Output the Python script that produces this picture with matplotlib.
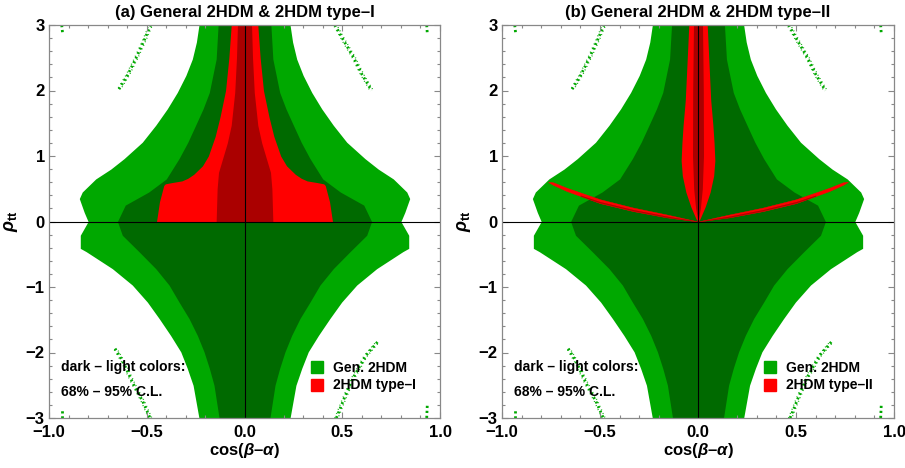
import matplotlib
matplotlib.use("Agg")
import matplotlib.pyplot as plt
from matplotlib.lines import Line2D
from matplotlib.ticker import MultipleLocator, FuncFormatter
import numpy as np

plt.rcParams['font.family'] = ['Liberation Sans', 'DejaVu Sans']
plt.rcParams['font.weight'] = 'bold'
plt.rcParams['mathtext.fontset'] = 'custom'
plt.rcParams['mathtext.rm'] = 'Liberation Sans:bold'
plt.rcParams['mathtext.it'] = 'Liberation Sans:italic:bold'
plt.rcParams['mathtext.bf'] = 'Liberation Sans:bold'

# ---- General 2HDM (both panels): half-widths in cos(beta-alpha) vs rho_tt
g95_rho = [-3.0, -2.5, -2.24, -1.99, -1.74, -1.48, -1.23, -0.97, -0.72, -0.46, -0.41,
           -0.21, 0.0, 0.14, 0.35, 0.45, 0.65, 0.80, 0.96, 1.21, 1.47, 1.72, 1.97, 2.23,
           2.48, 2.74, 3.0]
g95_hw = [0.233, 0.263, 0.293, 0.326, 0.378, 0.437, 0.497, 0.574, 0.676, 0.81, 0.84,
          0.84, 0.80, 0.82, 0.845, 0.83, 0.761, 0.684, 0.616, 0.523, 0.454, 0.395, 0.344,
          0.30, 0.267, 0.246, 0.233]
g68_rho = [-3.0, -2.5, -2.24, -1.99, -1.74, -1.48, -1.23, -0.97, -0.72, -0.46, -0.21,
           0.0, 0.25, 0.45, 0.65, 0.96, 1.21, 1.47, 1.72, 1.97, 2.48, 3.0]
g68_hw = [0.13, 0.156, 0.18, 0.207, 0.241, 0.284, 0.335, 0.386, 0.454, 0.54, 0.625,
          0.65, 0.61, 0.49, 0.40, 0.335, 0.29, 0.25, 0.212, 0.18, 0.145, 0.135]

# scattered outlying general-2HDM points (arcs)
arc_ul_x = [-0.642, -0.599, -0.557, -0.514, -0.48]
arc_ul_y = [2.02, 2.23, 2.48, 2.76, 3.0]
arc_ur_x = [0.463, 0.50, 0.557, 0.60, 0.65]
arc_ur_y = [3.0, 2.8, 2.51, 2.25, 2.0]
arc_ll_x = [-0.662, -0.62, -0.569, -0.52, -0.483]
arc_ll_y = [-1.94, -2.15, -2.48, -2.75, -3.0]
arc_lr_x = [0.68, 0.62, 0.557, 0.51, 0.47]
arc_lr_y = [-1.84, -2.05, -2.38, -2.7, -3.0]
corner_x = [[-0.935, -0.93], [0.932, 0.935], [-0.935, -0.935], [0.932, 0.935]]
corner_y = [[3.0, 2.86], [3.0, 2.87], [-3.0, -2.86], [-3.0, -2.8]]

# ---- 2HDM type-I
t1_95_rho = [0, 0.3, 0.55, 0.575, 0.595, 0.62, 0.66, 0.72, 0.85, 1.0, 1.3, 1.6, 2.0, 2.5, 3.0]
t1_95_hw = [0.45, 0.435, 0.413, 0.405, 0.37, 0.32, 0.29, 0.26, 0.215, 0.185, 0.15, 0.125,
            0.097, 0.08, 0.068]
t1_68_rho = [0, 0.5, 0.75, 0.96, 1.2, 1.47, 1.97, 2.5, 3.0]
t1_68_hw = [0.145, 0.14, 0.133, 0.112, 0.088, 0.068, 0.05, 0.041, 0.036]

# ---- 2HDM type-II
t2_95_rho = [0, 0.04, 0.22, 0.45, 0.70, 0.93, 1.2, 1.47, 1.85, 2.48, 3.0]
t2_95_hw = [0, 0.01, 0.036, 0.062, 0.08, 0.086, 0.082, 0.076, 0.065, 0.055, 0.047]
t2_68_rho = [0, 0.2, 0.5, 1.0, 2.0, 3.0]
t2_68_hw = [0, 0.012, 0.022, 0.028, 0.027, 0.023]
# wrong-sign branch (V shape), |cos(beta-alpha)| vs rho band
v95_x = [0, 0.16, 0.33, 0.5, 0.67, 0.74, 0.765]
v95_lo = [0, 0.063, 0.158, 0.28, 0.465, 0.56, 0.605]
v95_hi = [0, 0.107, 0.212, 0.34, 0.515, 0.60, 0.605]
v68_x = [0, 0.16, 0.33, 0.5, 0.6]
v68_lo = [0, 0.068, 0.166, 0.288, 0.39]
v68_hi = [0, 0.08, 0.18, 0.302, 0.40]

LG = '#00a800'
DG = '#006a00'
RD = '#ff0000'
DR = '#aa0000'
SPINE = '#888888'

fig = plt.figure(figsize=(9.05, 4.68), dpi=100)
ax1 = fig.add_axes([49/905, 1-418/468, 391/905, 393/468])
ax2 = fig.add_axes([502/905, 1-418/468, 392/905, 393/468])


def sym(ax, rho, hw, color, z):
    r = np.array(rho); h = np.array(hw)
    ax.fill_betweenx(r, -h, h, color=color, lw=0, zorder=z)


def base(ax):
    sym(ax, g95_rho, g95_hw, LG, 1)
    sym(ax, g68_rho, g68_hw, DG, 2)
    for xs, ys in [(arc_ul_x, arc_ul_y), (arc_ur_x, arc_ur_y), (arc_ll_x, arc_ll_y),
                   (arc_lr_x, arc_lr_y)]:
        ax.plot(xs, ys, color=LG, lw=2.0, ls=(0, (0.7, 1.1)), zorder=1)
        ax.plot(np.array(xs) + 0.009, ys, color=LG, lw=1.0, ls=(1, (0.6, 2.2)), zorder=1)
        ax.plot(np.array(xs) - 0.008, ys, color=LG, lw=1.0, ls=(2, (0.6, 2.6)), zorder=1)
    for xs, ys in zip(corner_x, corner_y):
        ax.plot(xs, ys, color=LG, lw=2.0, ls=(0, (0.8, 1.0)), zorder=1)


def fmt(fstr):
    return FuncFormatter(lambda v, p: (fstr % v).replace('-', '\u2212'))


def finish(ax, title, label2):
    ax.axhline(0, color='black', lw=0.8, zorder=6)
    ax.axvline(0, color='black', lw=0.8, zorder=6)
    ax.set_xlim(-1, 1)
    ax.set_ylim(-3, 3)
    ax.xaxis.set_major_locator(MultipleLocator(0.5))
    ax.xaxis.set_minor_locator(MultipleLocator(0.1))
    ax.yaxis.set_major_locator(MultipleLocator(1))
    ax.yaxis.set_minor_locator(MultipleLocator(0.2))
    ax.xaxis.set_major_formatter(fmt('%.1f'))
    ax.yaxis.set_major_formatter(fmt('%d'))
    ax.tick_params(which='both', direction='in', top=True, right=True, color=SPINE,
                   labelsize=12, width=0.8)
    ax.tick_params(which='major', length=4.5)
    ax.tick_params(axis='x', which='major', pad=5)
    ax.tick_params(axis='y', which='major', pad=3)
    ax.tick_params(which='minor', length=2.5)
    for lab in ax.get_xticklabels() + ax.get_yticklabels():
        lab.set_fontweight('bold')
    for s in ax.spines.values():
        s.set_color(SPINE)
        s.set_linewidth(0.9)
        s.set_zorder(7)
    ax.set_title(title, fontsize=12, fontweight='bold', pad=6)
    ax.set_xlabel(r'cos($\beta$–$\alpha$)', fontsize=12, fontweight='bold')
    ax.xaxis.set_label_coords(0.5, -0.058)
    ax.set_ylabel(r'$\rho_{\mathrm{tt}}$', fontsize=13, fontweight='bold')
    ax.yaxis.set_label_coords(-0.074, 0.5)
    ax.text(0.031, 0.13, 'dark – light colors:', transform=ax.transAxes, fontsize=10,
            fontweight='bold', va='center', ha='left', zorder=8)
    ax.text(0.031, 0.066, '68% – 95% C.L.', transform=ax.transAxes, fontsize=10,
            fontweight='bold', va='center', ha='left', zorder=8)
    handles = [Line2D([], [], marker='s', ls='none', color=LG, markersize=8, label='Gen. 2HDM'),
               Line2D([], [], marker='s', ls='none', color=RD, markersize=8, label=label2)]
    leg = ax.legend(handles=handles, loc='upper left', bbox_to_anchor=(0.667, 0.145),
                    frameon=False, handletextpad=0.65, labelspacing=0.25, handlelength=1.0,
                    borderpad=0, borderaxespad=0, prop={'size': 10, 'weight': 'bold'})
    leg.set_zorder(8)


# panel (a)
base(ax1)
sym(ax1, t1_95_rho, t1_95_hw, RD, 3)
sym(ax1, t1_68_rho, t1_68_hw, DR, 4)
finish(ax1, '(a) General 2HDM & 2HDM type–I', '2HDM type–I')

# panel (b)
base(ax2)
sym(ax2, t2_95_rho, t2_95_hw, RD, 3)
sym(ax2, t2_68_rho, t2_68_hw, DR, 4)
for sgn in (-1, 1):
    vx = sgn * np.array(v95_x)
    ax2.fill_between(vx, v95_lo, v95_hi, color=RD, lw=0.3, ec=RD, zorder=3)
    vx2 = sgn * np.array(v68_x)
    ax2.fill_between(vx2, v68_lo, v68_hi, color=DR, lw=0.2, ec=DR, zorder=4)
finish(ax2, '(b) General 2HDM & 2HDM type–II', '2HDM type–II')

fig.savefig('out.png', dpi=100)
